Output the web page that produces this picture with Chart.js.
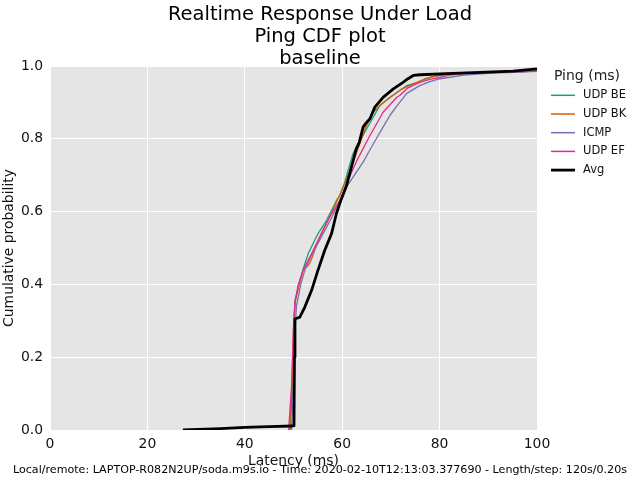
<!DOCTYPE html>
<html>
<head>
<meta charset="utf-8">
<script src="https://cdn.jsdelivr.net/npm/chart.js@4.4.1/dist/chart.umd.min.js"></script>
<style>
html,body{margin:0;padding:0;background:#fff;}
canvas{display:block;}
</style>
</head>
<body>
<canvas id="c" width="640" height="480"></canvas>
<script>
// ---- data ----
const titleLines = ["Realtime Response Under Load", "Ping CDF plot", "baseline"];
const footnote = "Local/remote: LAPTOP-R082N2UP/soda.m9s.io - Time: 2020-02-10T12:13:03.377690 - Length/step: 120s/0.20s";
const legendTitle = "Ping (ms)";
const seriesNames = ["UDP BE", "UDP BK", "ICMP", "UDP EF", "Avg"];
const seriesColors = ["#1b9e77", "#d95f02", "#7570b3", "#e7298a", "#000000"];
const xTicks = [0, 20, 40, 60, 80, 100];
const yTicks = [0.0, 0.2, 0.4, 0.6, 0.8, 1.0];

const udpBeLatency = [49.3, 49.8, 50.1, 50.3, 51.3, 52.0, 53.0, 55.0, 56.8, 58.8, 59.5, 60.5, 62.2, 63.5, 65.0, 66.5, 67.7, 69.8, 71.0, 73.2, 75.5, 78.0, 81.4, 85, 90, 100];
const udpBeCdf     = [0, 0.12, 0.28, 0.356, 0.411, 0.443, 0.484, 0.539, 0.576, 0.63, 0.644, 0.68, 0.759, 0.79, 0.827, 0.862, 0.891, 0.914, 0.925, 0.946, 0.955, 0.969, 0.977, 0.98, 0.982, 0.986];

const udpBkLatency = [49.2, 49.7, 50.0, 50.3, 51.2, 52.0, 53.0, 53.3, 53.7, 55.2, 57.0, 58.8, 60.5, 62.5, 65.0, 66.4, 68.0, 70.0, 72.0, 74.5, 77.0, 80.0, 84, 90, 100];
const udpBkCdf     = [0, 0.12, 0.28, 0.35, 0.40, 0.44, 0.452, 0.457, 0.47, 0.525, 0.575, 0.625, 0.676, 0.745, 0.837, 0.873, 0.895, 0.915, 0.935, 0.95, 0.965, 0.975, 0.979, 0.982, 0.986];

const icmpLatency  = [49.6, 50.0, 50.3, 50.6, 51.5, 52.3, 53.5, 55.5, 57.5, 59.5, 61.0, 62.5, 64.3, 65.5, 67.0, 68.5, 69.8, 71.2, 72.5, 73.2, 75.9, 78, 80.1, 85, 90, 100];
const icmpCdf      = [0, 0.12, 0.27, 0.34, 0.40, 0.438, 0.475, 0.525, 0.575, 0.63, 0.67, 0.70, 0.736, 0.765, 0.80, 0.835, 0.864, 0.89, 0.912, 0.924, 0.946, 0.957, 0.965, 0.975, 0.98, 0.985];

const udpEfLatency = [49.0, 49.6, 50.0, 50.3, 51.0, 52.0, 53.7, 55.7, 57.8, 59.5, 61.0, 63.0, 65.7, 68.4, 71.2, 71.8, 73.5, 75.9, 78, 80.1, 82, 85, 90, 100];
const udpEfCdf     = [0, 0.12, 0.28, 0.35, 0.40, 0.44, 0.484, 0.539, 0.594, 0.63, 0.68, 0.74, 0.809, 0.873, 0.914, 0.919, 0.94, 0.955, 0.963, 0.969, 0.975, 0.979, 0.982, 0.986];

const avgLatency   = [27.3, 35, 40, 45, 49.8, 50.1, 50.2, 50.3, 51.3, 52.3, 53.7, 55.0, 56.4, 57.8, 58.8, 59.7, 60.9, 62.9, 63.5, 64.3, 65.0, 65.7, 66.7, 68.4, 70.5, 72.5, 73.5, 74.6, 76, 81.4, 95.1, 100];
const avgCdf       = [0, 0.004, 0.007, 0.009, 0.011, 0.012, 0.2, 0.305, 0.31, 0.337, 0.383, 0.438, 0.493, 0.539, 0.594, 0.63, 0.672, 0.773, 0.79, 0.832, 0.845, 0.855, 0.887, 0.914, 0.937, 0.955, 0.965, 0.974, 0.976, 0.979, 0.986, 0.992];

const seriesX = [udpBeLatency, udpBkLatency, icmpLatency, udpEfLatency, avgLatency];
const seriesY = [udpBeCdf, udpBkCdf, icmpCdf, udpEfCdf, avgCdf];
// ------------------------------------------------

const FONT = "'DejaVu Sans', 'Liberation Sans', sans-serif";
const lineWidths = [1.3, 1.3, 1.3, 1.3, 2.8];
const drawOrder = [4, 3, 2, 1, 0];
const LEGEND_WIDTH = 103;

const datasets = seriesNames.map((name, i) => ({
  label: name,
  data: seriesX[i].map((x, j) => ({x: x, y: seriesY[i][j]})),
  borderColor: seriesColors[i],
  backgroundColor: seriesColors[i],
  borderWidth: lineWidths[i],
  pointRadius: 0,
  pointHoverRadius: 0,
  showLine: true,
  tension: 0,
  borderJoinStyle: 'round',
  order: drawOrder[i]
}));

const plotBg = {
  id: 'plotBg',
  beforeDraw(chart) {
    const {ctx, chartArea: a} = chart;
    ctx.save();
    ctx.fillStyle = '#e5e5e5';
    ctx.fillRect(a.left, a.top, a.right - a.left, a.bottom - a.top);
    ctx.restore();
  }
};

// right-hand box that reserves room for the legend (title stays centred on the figure)
const legendBox = {
  id: 'legendBox',
  beforeInit(chart) {
    const box = {
      position: 'right', weight: 0, fullSize: false,
      options: {},
      left: 0, top: 0, right: 0, bottom: 0, width: 0, height: 0,
      isHorizontal() { return false; },
      update(maxWidth, maxHeight) { this.width = LEGEND_WIDTH; this.height = maxHeight; },
      getPadding() { return {left: 0, top: 0, right: 0, bottom: 0}; },
      draw() {}
    };
    Chart.layouts.addBox(chart, box);
  },
  afterDraw(chart) {
    const ctx = chart.ctx;
    const lx = chart.chartArea.right + 14;
    ctx.save();
    ctx.textBaseline = 'middle';
    // footnote
    ctx.fillStyle = '#000';
    ctx.font = "11.1px " + FONT;
    ctx.textAlign = 'center';
    ctx.fillText(footnote, chart.width / 2, 470);
    // legend
    ctx.font = "14px " + FONT;
    ctx.fillStyle = '#222';
    ctx.fillText(legendTitle, lx + 36, 76);
    ctx.font = "11.5px " + FONT;
    ctx.textAlign = 'left';
    seriesNames.forEach((name, i) => {
      const y = 95.3 + i * 18.7;
      ctx.strokeStyle = seriesColors[i];
      ctx.lineWidth = i === 4 ? 2.8 : 1.5;
      ctx.beginPath();
      ctx.moveTo(lx, y);
      ctx.lineTo(lx + 24, y);
      ctx.stroke();
      ctx.fillStyle = '#111';
      ctx.fillText(name, lx + 32, y);
    });
    ctx.restore();
  }
};

new Chart(document.getElementById('c'), {
  type: 'scatter',
  data: {datasets},
  plugins: [plotBg, legendBox],
  options: {
    responsive: false,
    animation: false,
    devicePixelRatio: 1,
    layout: {padding: 0},
    plugins: {
      legend: {display: false},
      tooltip: {enabled: false},
      title: {
        display: true,
        text: titleLines,
        color: '#000',
        font: {family: FONT, size: 19.5, weight: 'normal', lineHeight: '22px'},
        padding: {top: 3.5, bottom: -3.5}
      }
    },
    scales: {
      x: {
        type: 'linear',
        min: xTicks[0],
        max: xTicks[xTicks.length - 1],
        afterBuildTicks(scale) { scale.ticks = xTicks.map(v => ({value: v})); },
        afterFit(scale) { scale.height = 50; },
        grid: {color: '#ffffff', lineWidth: 1, drawTicks: false},
        border: {display: false},
        ticks: {color: '#111', font: {family: FONT, size: 13.9}, padding: 6,
                callback: v => String(v), maxRotation: 0},
        title: {display: true, text: 'Latency (ms)', color: '#111',
                font: {family: FONT, size: 13.9}, padding: {top: 0, bottom: 10}}
      },
      y: {
        type: 'linear',
        min: yTicks[0],
        max: yTicks[yTicks.length - 1],
        afterBuildTicks(scale) { scale.ticks = yTicks.map(v => ({value: v})); },
        afterFit(scale) { scale.width = 50; },
        grid: {color: '#ffffff', lineWidth: 1, drawTicks: false},
        border: {display: false},
        ticks: {color: '#111', font: {family: FONT, size: 13.9}, padding: 7,
                callback: v => Number(v).toFixed(1)},
        title: {display: true, text: 'Cumulative probability', color: '#111',
                font: {family: FONT, size: 13.9}, padding: {top: 1, bottom: 0}}
      }
    }
  }
});
</script>
</body>
</html>
